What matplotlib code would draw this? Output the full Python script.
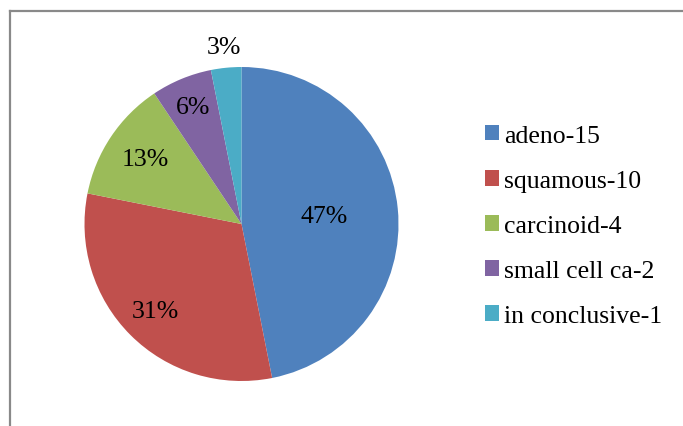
import matplotlib
matplotlib.use("Agg")
import matplotlib.pyplot as plt
from matplotlib.lines import Line2D
import numpy as np

labels = ["adeno-15", "squamous-10", "carcinoid-4", "small cell ca-2", "in conclusive-1"]
counts = [15, 10, 4, 2, 1]
colors = ["#4F81BD", "#C0504D", "#9BBB59", "#8064A2", "#4BACC6"]
label_dist = [0.53, 0.78, 0.74, 0.81, 1.13]

plt.rcParams['font.family'] = ['Liberation Serif', 'DejaVu Serif']

W, H = 683, 427
fig = plt.figure(figsize=(W/100, H/100), dpi=100)

# border (top and left)
fig.add_artist(Line2D([10/W, 10/W], [0, 1 - 12/H], transform=fig.transFigure, color="#898989", lw=1.6))
fig.add_artist(Line2D([10/W, 682/W], [1 - 12/H, 1 - 12/H], transform=fig.transFigure, color="#898989", lw=1.6))

cx, cy, r = 241.5, 225, 157
ax = fig.add_axes([(cx - r)/W, (H - cy - r)/H, 2*r/W, 2*r/H])
wedges, _ = ax.pie(counts, colors=colors, startangle=90, counterclock=False, radius=1,
                   wedgeprops=dict(linewidth=0))
ax.set_xlim(-1, 1)
ax.set_ylim(-1, 1)
ax.set_aspect('equal')
ax.axis('off')

total = sum(counts)
for w, c, d in zip(wedges, counts, label_dist):
    ang = np.deg2rad((w.theta1 + w.theta2) / 2)
    pct = int(np.floor(100 * c / total + 0.5))
    ax.text(d*np.cos(ang), d*np.sin(ang), f"{pct}%", ha='center', va='center', fontsize=18.5, color='black')

fig.legend(wedges, labels, loc='center left', bbox_to_anchor=(485/W, 1 - 227/H),
           frameon=False, fontsize=18.5, handlelength=0.55, handleheight=0.55,
           handletextpad=0.2, labelspacing=0.9, borderpad=0, borderaxespad=0)

fig.savefig("out.png", dpi=100)
